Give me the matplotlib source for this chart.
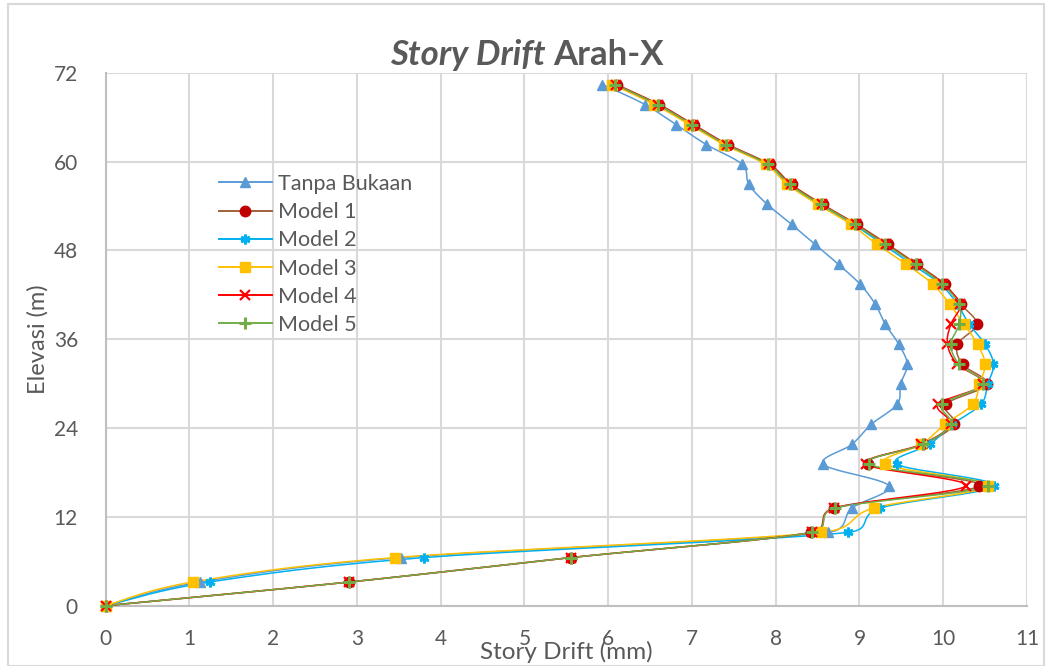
import numpy as np
import matplotlib
matplotlib.use("Agg")
import matplotlib.pyplot as plt
from matplotlib.patches import Rectangle

# Elevation of each level (m)
elevasi = [0, 3.2, 6.5, 9.9, 13.2, 16.2, 19.1, 21.8, 24.5, 27.2, 29.9, 32.6,
           35.3, 38.0, 40.7, 43.4, 46.1, 48.8, 51.5, 54.2, 56.9, 59.6, 62.3,
           65.0, 67.7, 70.4]

# Story drift per level (mm)
tanpa_bukaan = [0, 1.13, 3.53, 8.62, 8.91, 9.35, 8.57, 8.91, 9.14, 9.45, 9.49,
                9.57, 9.47, 9.31, 9.19, 9.01, 8.75, 8.47, 8.19, 7.90, 7.68,
                7.60, 7.17, 6.81, 6.44, 5.93]
model_1 = [0, 2.91, 5.55, 8.42, 8.70, 10.43, 9.10, 9.76, 10.13, 10.03, 10.52,
           10.23, 10.17, 10.40, 10.21, 10.02, 9.69, 9.34, 8.97, 8.56, 8.19,
           7.93, 7.43, 7.02, 6.61, 6.10]
model_2 = [0, 1.24, 3.80, 8.86, 9.25, 10.61, 9.45, 9.84, 10.11, 10.45, 10.53,
           10.60, 10.50, 10.31, 10.17, 9.97, 9.63, 9.28, 8.93, 8.52, 8.16,
           7.90, 7.40, 6.99, 6.57, 6.07]
model_3 = [0, 1.04, 3.45, 8.54, 9.17, 10.53, 9.31, 9.74, 10.02, 10.35, 10.43,
           10.50, 10.41, 10.25, 10.08, 9.88, 9.56, 9.21, 8.90, 8.50, 8.14,
           7.88, 7.38, 6.97, 6.55, 6.05]
model_4 = [0, 2.91, 5.55, 8.43, 8.70, 10.27, 9.08, 9.74, 10.09, 9.94, 10.48,
           10.17, 10.05, 10.09, 10.20, 10.00, 9.68, 9.32, 8.96, 8.55, 8.18,
           7.92, 7.42, 7.01, 6.60, 6.09]
model_5 = [0, 2.91, 5.55, 8.43, 8.71, 10.53, 9.11, 9.76, 10.09, 9.99, 10.47,
           10.19, 10.09, 10.19, 10.19, 9.99, 9.67, 9.31, 8.95, 8.54, 8.17,
           7.91, 7.41, 7.00, 6.59, 6.08]

series_names = ["Tanpa Bukaan", "Model 1", "Model 2", "Model 3", "Model 4", "Model 5"]
series_values = [tanpa_bukaan, model_1, model_2, model_3, model_4, model_5]

x_ticks = list(range(0, 12))
y_ticks = [0, 12, 24, 36, 48, 60, 72]

styles = [
    dict(color="#5B9BD5", marker="^", mfc="#5B9BD5", mec="#5B9BD5", ms=7.5),
    dict(color="#A0613A", marker="o", mfc="#C00000", mec="#C00000", ms=7.5),
    dict(color="#00B0F0", marker=(6, 2, 0), mfc="#00B0F0", mec="#00B0F0", ms=7, mew=2.0),
    dict(color="#FFC000", marker="s", mfc="#FFC000", mec="#FFC000", ms=7.5),
    dict(color="#FF0000", marker="x", mfc="#FF0000", mec="#FF0000", ms=7, mew=1.6),
    dict(color="#70AD47", marker="+", mfc="#70AD47", mec="#70AD47", ms=9, mew=2.2),
]

TEXT = "#595959"
GRID = "#D9D9D9"

W, H = 1053, 666
fig = plt.figure(figsize=(W / 100, H / 100), dpi=100)
plt.rcParams["font.family"] = ["Lato", "DejaVu Sans"]

left, right, bottom, top = 105.7, 1027, 605.7, 72.7
ax = fig.add_axes([left / W, 1 - bottom / H, (right - left) / W, (bottom - top) / H])
ax.set_xlim(0, 11)
ax.set_ylim(0, 72)

# pixel scale per data unit, so the curve smoothing happens in screen space
sx = (right - left) / 11
sy = (bottom - top) / 72


def smooth_curve(xs, ys, n=24):
    px = np.asarray(xs, float) * sx
    py = np.asarray(ys, float) * sy
    pts = np.column_stack([px, py])
    m = len(pts)
    seglen = np.hypot(*np.diff(pts, axis=0).T)
    out = [pts[0]]
    t = np.linspace(0, 1, n)[1:, None]
    for i in range(m - 1):
        p0, p3 = pts[i], pts[i + 1]
        L = seglen[i]
        if i > 0:
            Lp = seglen[i - 1]
            f1 = min(1 / 6, L / (Lp + L) / 1.5)
            c1 = p0 + (p3 - pts[i - 1]) * f1
        else:
            c1 = p0 + (p3 - p0) / 6
        if i + 2 < m:
            Ln = seglen[i + 1]
            f2 = min(1 / 6, L / (Ln + L) / 1.5)
            c2 = p3 - (pts[i + 2] - p0) * f2
        else:
            c2 = p3 - (p3 - p0) / 6
        seg = ((1 - t) ** 3) * p0 + 3 * ((1 - t) ** 2) * t * c1 + 3 * (1 - t) * t ** 2 * c2 + t ** 3 * p3
        out.extend(seg)
    out = np.array(out)
    return out[:, 0] / sx, out[:, 1] / sy


handles = []
for name, vals, st in zip(series_names, series_values, styles):
    cx, cy = smooth_curve(vals, elevasi)
    ax.plot(cx, cy, color=st["color"], lw=1.1, zorder=3, clip_on=False)
    ax.plot(vals, elevasi, ls="none", marker=st["marker"], mfc=st["mfc"],
            mec=st["mec"], ms=st["ms"], mew=st.get("mew", 1.0), zorder=4,
            clip_on=False)
    proxy, = ax.plot([], [], color=st["color"], lw=1.4, marker=st["marker"],
                     mfc=st["mfc"], mec=st["mec"], ms=st["ms"], mew=st.get("mew", 1.0))
    handles.append(proxy)

ax.set_xticks(x_ticks)
ax.set_yticks(y_ticks)
ax.grid(True, color=GRID, lw=1.5)
ax.set_axisbelow(True)
for s in ["top", "right"]:
    ax.spines[s].set_visible(False)
for s in ["left", "bottom"]:
    ax.spines[s].set_color("#BFBFBF")
    ax.spines[s].set_linewidth(1.5)
ax.tick_params(length=0, labelsize=15, labelcolor=TEXT)
ax.tick_params(axis="x", pad=17)
ax.tick_params(axis="y", pad=20)

ax.set_xlabel("Story Drift (mm)", fontsize=17.5, color=TEXT, labelpad=-6)
ax.set_ylabel("Elevasi (m)", fontsize=17, color=TEXT, labelpad=4)

t1 = fig.text(0, 0, "Story Drift ", fontsize=25, fontweight="bold", fontstyle="italic", color=TEXT)
t2 = fig.text(0, 0, "Arah-X", fontsize=25, fontweight="bold", color=TEXT)
fig.canvas.draw()
r = fig.canvas.get_renderer()
w1 = t1.get_window_extent(r).width
w2 = t2.get_window_extent(r).width
x0 = 527 - (w1 + w2) / 2
t1.set_position((x0 / W, 1 - 65 / H))
t2.set_position(((x0 + w1) / W, 1 - 65 / H))

ax.legend(handles, series_names, loc="upper left", frameon=False,
          bbox_to_anchor=(219 / W, 1 - 174 / H), bbox_transform=fig.transFigure,
          fontsize=15.5, labelcolor=TEXT, handlelength=2.45, handletextpad=0.28,
          labelspacing=0.38, borderpad=0, borderaxespad=0)

fig.add_artist(Rectangle((8 / W, 0), (1044 - 8) / W, 1 - 4 / H, transform=fig.transFigure,
                         fill=False, ec="#D9D9D9", lw=1.5))

fig.savefig("out.png", dpi=100)
